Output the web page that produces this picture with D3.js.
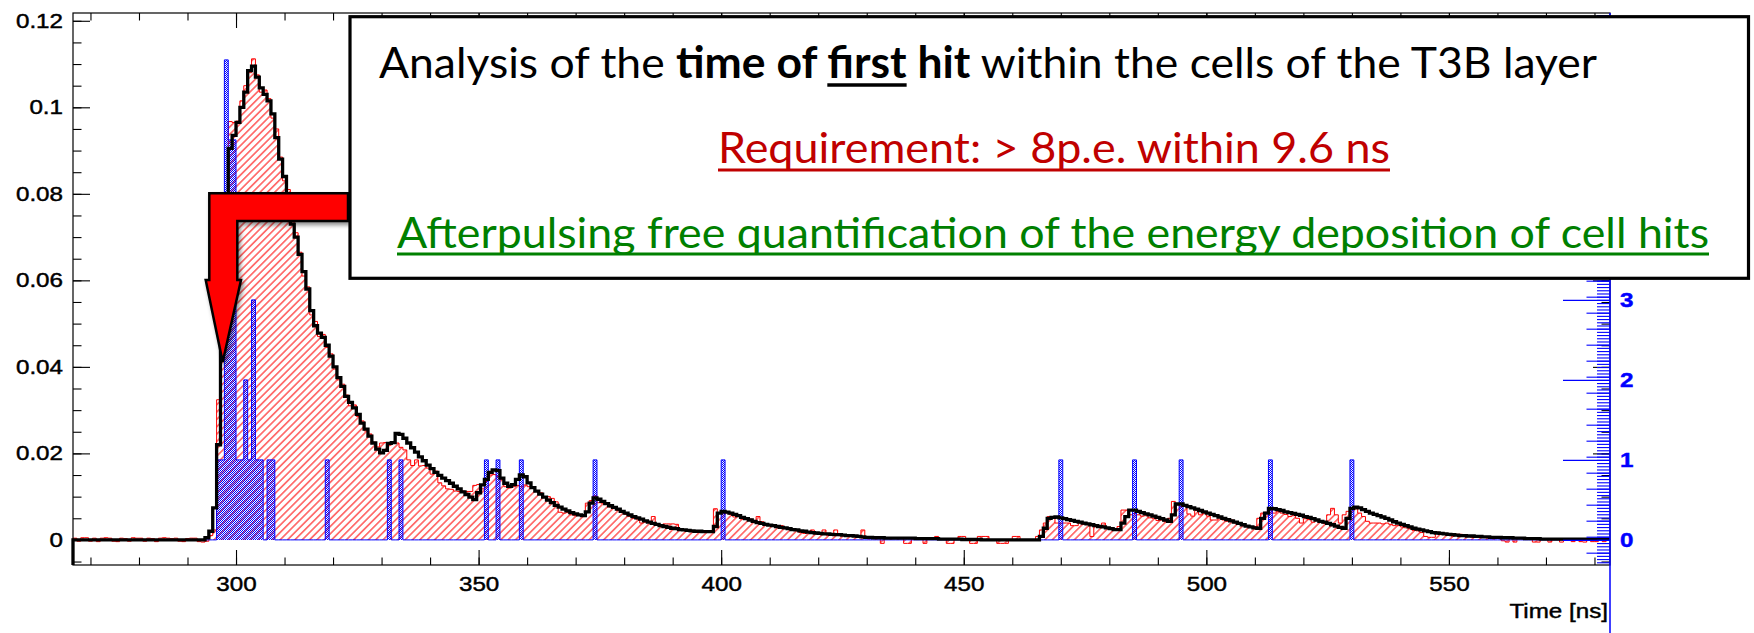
<!DOCTYPE html>
<html>
<head>
<meta charset="utf-8">
<script src="https://cdn.jsdelivr.net/npm/d3@7"></script>
<style>
body { margin: 0; background: #fff; }
svg { display: block; }
.labels text { font-family: "Liberation Sans", Arial, sans-serif; font-size: 20.5px; stroke-width: 0.45px; }
.box text { font-family: Lato, "Open Sans", sans-serif; font-size: 43px; }
</style>
</head>
<body>
<div id="plot"></div>
<script>

//Time of first hit in the T3B cells per 0.8 ns bin

// histogram binning (ns)
var timeMin = 266.4,
    binWidth = 0.8;

// black line: time of first hit, values in units of 1e-3
var firstHitPermille = [
    0,0,0,0,0,0,0,0,0,0,                                   // 0
    0,0,0,0,0,0,0,0,0,0,                                   // 10
    0,0,0,0,0,0,0,0,0,0,                                   // 20
    0,0,0,0,0.5,2,7.4,22,48,72,                            // 30
    90.5,93.5,96.5,100,103.5,108.5,109.5,107,104.5,103,    // 40
    101.5,98.5,93,88,84,80,73,70,66,62,                    // 50
    58,53,49.5,47.8,46.8,45,42.5,40,37.5,35.5,             // 60
    33.2,31.8,30.5,29,27,25.6,24,22.4,21,20.1,             // 70
    20.7,22.3,22.5,24.6,24.4,23.5,22.4,21.3,20.3,19.2,     // 80
    18.3,17.3,16.5,15.6,14.9,14.3,13.7,13.1,12.4,11.8,     // 90
    11.1,10.5,9.9,9.3,10.9,12.7,14,15.6,16.2,16,           // 100
    14.3,13.1,12.4,12.8,14,15,14.6,13.2,12.1,11.3,         // 110
    10.6,9.9,9.2,8.6,8,7.6,7.1,6.7,6.3,6,                  // 120
    5.8,5.6,6.5,8.5,9.7,9.4,8.9,8.4,7.9,7.5,               // 130
    7.1,6.6,6.2,5.8,5.4,5.1,4.8,4.4,4.1,3.8,               // 140
    3.6,3.3,3.1,2.9,2.7,2.6,2.4,2.3,2.2,2.1,               // 150
    2,2,1.9,1.9,1.9,3.1,6.2,6.6,6.4,6.2,                   // 160
    5.9,5.6,5.2,4.9,4.6,4.3,4,3.8,3.6,3.4,                 // 170
    3.3,3.1,2.9,2.8,2.6,2.4,2.3,2.1,2,1.8,                 // 180
    1.7,1.6,1.5,1.4,1.4,1.3,1.2,1.2,1.1,1,                 // 190
    1,0.9,0.8,0.7,0.6,0.6,0.5,0.5,0.5,0.4,                 // 200
    0.4,0.4,0.4,0.4,0.4,0.4,0.4,0.3,0.3,0.3,               // 210
    0.3,0.3,0.3,0.2,0.2,0.2,0.2,0.2,0.2,0.1,               // 220
    0.1,0.1,0.1,0.1,0,0,0,0,0,0,                           // 230
    0,0,0,0,0,0,0,0,0,0.8,                                 // 240
    2.7,5,5.2,5.3,5.1,4.9,4.7,4.5,4.3,4.1,                 // 250
    3.9,3.7,3.5,3.3,3.1,3,2.8,2.6,2.4,2.4,                 // 260
    3.9,5.4,6.9,6.9,6.6,6.3,6,5.8,5.5,5.2,                 // 270
    4.9,4.6,4.3,5.8,8.3,8.3,8,7.7,7.4,7.1,                 // 280
    6.8,6.5,6.2,5.9,5.6,5.3,5,4.7,4.4,4.1,                 // 290
    3.8,3.5,3.2,3,2.8,2.7,5,6.2,7.3,7.2,                   // 300
    7,6.8,6.5,6.3,6.1,5.9,5.7,5.4,5.2,4.9,                 // 310
    4.6,4.3,4.1,3.8,3.5,3.2,2.9,2.7,5,7.3,                 // 320
    7.6,7.4,7,6.6,6.2,5.9,5.6,5.3,5,4.6,                   // 330
    4.2,3.9,3.6,3.3,3,2.7,2.5,2.3,2.1,1.9,                 // 340
    1.7,1.6,1.5,1.4,1.3,1.2,1.1,1,1,0.9,                   // 350
    0.9,0.8,0.8,0.7,0.7,0.6,0.6,0.6,0.5,0.5,               // 360
    0.5,0.4,0.4,0.4,0.3,0.3,0.3,0.3,0.2,0.2,               // 370
    0.2,0.2,0.2,0.2,0.2,0.2,0.2,0.2,0.2,0.2,               // 380
    0.2,0.2,0.2,0.2,0.2,0.2                                // 390
];

// red hatched: all hits, values in units of 1e-3
var allHitsPermille = [
    0.4,-0.3,0.5,0.5,-0.3,0.4,-0.4,0.4,0.5,0.4,            // 0
    -0.3,-0.4,0.4,0.3,-0.3,0.5,0.4,0.4,-0.3,0.4,           // 10
    0.3,-0.4,0.4,0.5,0.4,0.3,0.4,-0.3,-0.4,0.3,            // 20
    0.4,0.4,-0.4,-0.5,-0.3,1,2.3,32.4,52,80,               // 30
    96.7,96.5,96.8,101.5,105,108,111.2,107.5,103.5,104,    // 40
    102,97.5,95,88.5,83,81,73.5,71,66.5,61,                // 50
    58.5,52,50.5,47,47.5,44.5,43,39.5,37,36,               // 60
    33.5,31,31.2,28.5,27.5,25.2,24.5,22.6,21.5,22.4,       // 70
    22.5,21.9,22.6,22.4,21.4,20.8,18.5,17.2,18.5,17.1,     // 80
    17.2,16.6,15.2,15.9,13.2,12.5,11.8,11.7,11.3,11.2,     // 90
    11.3,11.2,11.2,12.6,12.8,11.8,13.5,15,15.1,14.7,       // 100
    13.9,12.3,12,12.3,12.6,12.3,12.7,12.3,12.1,11.2,       // 110
    10.9,10,10,9.6,8.8,6.4,6.2,6.3,5.8,5.6,                // 120
    5.8,5.4,8.5,9.1,10.2,8.6,8.5,8.5,7.6,7.3,              // 130
    6.8,6.5,5.9,5.4,5,4.8,3.9,4.1,4,5.4,                   // 140
    3.4,3.2,3.7,3.7,3.7,3.6,2.4,2.2,2,2.1,                 // 150
    1.8,1.9,1.9,1.8,2,7.2,6.2,6.2,6.5,5.9,                 // 160
    5.3,5.5,4.8,4.8,4.8,4.5,5.4,4.2,3.7,3.5,               // 170
    3.1,3.1,3.3,2.7,2.5,2.2,2.3,1.7,1.5,1.8,               // 180
    2.3,1.4,1.6,2.3,1.1,1.3,2.3,1,1.2,1,                   // 190
    0.8,1,0.8,2.3,0.6,0.5,0.4,0.6,-0.8,0.5,                // 200
    0.4,0.4,0.5,0.4,-0.8,-0.8,0.4,0.4,0.3,-0.8,            // 210
    0.3,0.3,0.8,0.3,0.2,-0.8,-0.8,0.2,0.8,0.8,             // 220
    0.1,-0.8,-0.8,0.8,0.8,0.8,0,0,-0.8,-0.8,               // 230
    -0.8,0,0.8,0.8,0,0,0,0,0.8,2.3,                        // 240
    3.9,5.4,5.2,3.9,3.9,3.9,3.9,3.3,3.3,3.9,               // 250
    3.6,3.6,0.8,3.3,3.3,3.9,2.8,2.5,2.3,3.1,               // 260
    6.9,6.9,5.8,6.1,5.8,5.5,5.6,5.1,5,4.5,                 // 270
    4.6,4.2,5,8.9,8.1,7.7,7.8,6,5.5,6.8,                   // 280
    5.8,6.2,5.5,4.6,4.6,5.2,4.6,4.3,4.6,3.9,               // 290
    3.9,3.6,3.2,3,3.1,5,6.2,6.4,6.9,6.2,                   // 300
    6.6,6.2,5.9,5.4,5.6,5,3.9,4.9,4.7,4.1,                 // 310
    4.5,4,3.8,5.8,7.3,5.8,3.9,5.8,6.6,7.3,                 // 320
    7.3,6.2,5.4,4.3,3.9,3.9,3.9,3.7,3.9,3.6,               // 330
    3.3,3.3,3,2.8,2.6,2.2,2.1,1.7,0.8,0.6,                 // 340
    0.6,1.8,1.6,1.5,1.2,0.9,1.3,1.3,1.2,1,                 // 350
    0.6,0.7,0.8,0.6,0.5,0.3,0.5,0.5,-0.2,-0.5,             // 360
    0.4,-0.5,0.3,0.3,0.2,0.2,-0.5,-0.5,0.3,0.2,            // 370
    -0.5,0.2,0.2,-0.5,0.2,0.2,-0.4,0.2,-0.4,-0.5,          // 380
    0.2,-0.4,-0.4,0.2,-0.4,0.1                             // 390
];

// blue: hits of a single event (right axis), bin start time and count
var blueHitTimes  = [296.0, 296.8, 297.6, 298.4, 299.2, 300.0, 300.8, 301.6, 302.4, 303.2, 304.0, 304.8, 306.4, 307.2,
                     318.4, 331.2, 333.6, 351.2, 353.6, 358.4, 373.6, 400.0, 469.6, 484.8, 494.4, 512.8, 529.6];
var blueHitCounts = [1, 1, 6, 5, 5, 1, 1, 2, 1, 3, 1, 1, 1, 1,
                     1, 1, 1, 1, 1, 1, 1, 1, 1, 1, 1, 1, 1];

var xTickLabels = [300, 350, 400, 450, 500, 550];
var yTickLabels = [0, 0.02, 0.04, 0.06, 0.08, 0.1, 0.12];
var hitTickLabels = [0, 1, 2, 3];
var hitMajorTicks = [0, 1, 2, 3, 4, 5, 6];


TimePlot = function(_parentElement){
    this.parentElement = _parentElement;
    this.initVis();
}

TimePlot.prototype.initVis = function(){
    var vis = this;

    vis.frame = { left: 73, top: 13, right: 1610, bottom: 565 };

    vis.svg = d3.select("#" + vis.parentElement).append("svg")
        .attr("width", 1754)
        .attr("height", 633);

    var nBins = firstHitPermille.length;
    var timeMax = timeMin + nBins * binWidth;

    vis.x = d3.scaleLinear()
        .domain([timeMin, timeMax])
        .range([vis.frame.left, vis.frame.right]);

    vis.y = d3.scaleLinear()
        .domain([-0.0058, 0.1218])
        .range([vis.frame.bottom, vis.frame.top]);

    vis.yHits = d3.scaleLinear()
        .domain([-0.314, 6.586])
        .range([vis.frame.bottom, vis.frame.top]);

    //Patterns and shadow
    var defs = vis.svg.append("defs");

    defs.append("pattern")
        .attr("id", "redHatch")
        .attr("patternUnits", "userSpaceOnUse")
        .attr("width", 5.2).attr("height", 5.2)
        .attr("patternTransform", "rotate(45)")
        .append("line")
        .attr("x1", 2.6).attr("x2", 2.6)
        .attr("y1", 0).attr("y2", 5.2)
        .attr("stroke", "#ff0000")
        .attr("stroke-width", 1);

    var dots = defs.append("pattern")
        .attr("id", "blueDots")
        .attr("patternUnits", "userSpaceOnUse")
        .attr("width", 2).attr("height", 2);
    dots.append("rect").attr("x", 0).attr("y", 0).attr("width", 1).attr("height", 1).attr("fill", "#0000ff");
    dots.append("rect").attr("x", 1).attr("y", 1).attr("width", 1).attr("height", 1).attr("fill", "#0000ff");

    defs.append("filter")
        .attr("id", "shadow")
        .attr("x", "-20%").attr("y", "-20%")
        .attr("width", "140%").attr("height", "140%")
        .append("feDropShadow")
        .attr("dx", 2).attr("dy", 3)
        .attr("stdDeviation", 2)
        .attr("flood-color", "#000")
        .attr("flood-opacity", 0.45);

    //Histogram points (bin start, value) plus the closing edge
    var toBins = function(vals){
        var pts = vals.map((v, i) => ({ t: timeMin + i * binWidth, v: v }));
        pts.push({ t: timeMax, v: vals[vals.length - 1] });
        return pts;
    };

    var firstHit = toBins(firstHitPermille.map(d => d / 1000));
    var allHits = toBins(allHitsPermille.map(d => d / 1000));

    var hitCounts = firstHitPermille.map(() => 0);
    blueHitTimes.forEach((t, k) => {
        hitCounts[Math.round((t - timeMin) / binWidth)] = blueHitCounts[k];
    });
    var hits = toBins(hitCounts);

    var stepLine = function(scale){
        return d3.line().curve(d3.curveStepAfter)
            .x(d => vis.x(d.t)).y(d => scale(d.v));
    };
    var stepArea = function(scale){
        return d3.area().curve(d3.curveStepAfter)
            .x(d => vis.x(d.t)).y0(scale(0)).y1(d => scale(d.v));
    };

    var plot = vis.svg.append("g").attr("class", "histos");

    //Red: all hits, hatched
    plot.append("path")
        .attr("d", stepArea(vis.y)(allHits))
        .attr("fill", "url(#redHatch)");
    plot.append("path")
        .attr("d", stepLine(vis.y)([{ t: timeMin, v: 0 }].concat(allHits, [{ t: timeMax, v: 0 }])))
        .attr("fill", "none")
        .attr("stroke", "#ff0000")
        .attr("stroke-width", 1);

    //Blue: single event, right axis
    plot.append("path")
        .attr("d", stepArea(vis.yHits)(hits))
        .attr("fill", "url(#blueDots)");
    plot.append("path")
        .attr("d", stepLine(vis.yHits)([{ t: timeMin, v: 0 }].concat(hits, [{ t: timeMax, v: 0 }])))
        .attr("fill", "none")
        .attr("stroke", "#0000ff")
        .attr("stroke-width", 1);

    //Black: time of first hit
    plot.append("path")
        .attr("d", stepLine(vis.y)([{ t: timeMin, v: vis.y.domain()[0] }].concat(firstHit)))
        .attr("fill", "none")
        .attr("stroke", "#000")
        .attr("stroke-width", 3.3)
        .attr("stroke-linejoin", "miter");

    //Frame
    vis.svg.append("rect")
        .attr("x", vis.frame.left).attr("y", vis.frame.top)
        .attr("width", vis.frame.right - vis.frame.left)
        .attr("height", vis.frame.bottom - vis.frame.top)
        .attr("fill", "none")
        .attr("stroke", "#000")
        .attr("stroke-width", 1.2);

    //Inward ticks on all sides
    var xMinor = d3.range(270, timeMax, 10);
    var yMinor = d3.range(-1, 25).map(k => +(k * 0.005).toFixed(3));
    var hitMinor = d3.range(-7, 165).map(k => k / 25);

    var ticks = function(axis, tx, ty, color){
        vis.svg.append("g")
            .attr("transform", "translate(" + tx + "," + ty + ")")
            .call(axis.tickFormat(""))
            .call(g => g.select(".domain").remove())
            .selectAll("line")
            .attr("stroke", color)
            .attr("stroke-width", 1.1);
    };

    ticks(d3.axisTop(vis.x).tickValues(xMinor).tickSize(7.5), 0, vis.frame.bottom, "#000");
    ticks(d3.axisTop(vis.x).tickValues(xTickLabels).tickSize(15), 0, vis.frame.bottom, "#000");
    ticks(d3.axisBottom(vis.x).tickValues(xMinor).tickSize(7.5), 0, vis.frame.top, "#000");
    ticks(d3.axisBottom(vis.x).tickValues(xTickLabels).tickSize(15), 0, vis.frame.top, "#000");
    ticks(d3.axisRight(vis.y).tickValues(yMinor).tickSize(8.5), vis.frame.left, 0, "#000");
    ticks(d3.axisRight(vis.y).tickValues(yTickLabels).tickSize(17), vis.frame.left, 0, "#000");
    ticks(d3.axisLeft(vis.y).tickValues(yMinor).tickSize(8.5), vis.frame.right, 0, "#000");
    ticks(d3.axisLeft(vis.y).tickValues(yTickLabels).tickSize(17), vis.frame.right, 0, "#000");

    //Right axis for the single event (blue)
    ticks(d3.axisLeft(vis.yHits).tickValues(hitMinor).tickSize(13), vis.frame.right, 0, "#0000ff");
    ticks(d3.axisLeft(vis.yHits).tickValues(hitMinor.filter((d, k) => (k + 7) % 5 === 0)).tickSize(23.5), vis.frame.right, 0, "#0000ff");
    ticks(d3.axisLeft(vis.yHits).tickValues(hitMajorTicks).tickSize(47), vis.frame.right, 0, "#0000ff");

    vis.svg.append("line")
        .attr("x1", vis.frame.right).attr("x2", vis.frame.right)
        .attr("y1", vis.frame.top).attr("y2", 633)
        .attr("stroke", "#0000ff")
        .attr("stroke-width", 1.5);

    //Labels: the ROOT fonts come out about 18% wider than Arial
    var stretch = 1.18;
    var widen = function(sel){
        sel.each(function(){
            var t = d3.select(this);
            t.attr("x", (+t.attr("x") || 0) / stretch)
                .attr("transform", "scale(" + stretch + ",1)");
        });
    };

    var labels = function(axis, tx, ty, color, bold){
        var g = vis.svg.append("g")
            .attr("class", "labels")
            .attr("transform", "translate(" + tx + "," + ty + ")")
            .call(axis.tickSize(0))
            .call(g => g.select(".domain").remove());
        g.attr("font-size", null).attr("font-family", null);
        g.selectAll("text")
            .attr("fill", color)
            .attr("stroke", color)
            .attr("font-weight", bold ? "bold" : "normal")
            .call(widen);
    };

    labels(d3.axisBottom(vis.x).tickValues(xTickLabels).tickPadding(11).tickFormat(d => String(d)),
        0, vis.frame.bottom, "#000", false);
    labels(d3.axisLeft(vis.y).tickValues(yTickLabels).tickPadding(10).tickFormat(d => String(d)),
        vis.frame.left, 0, "#000", false);
    labels(d3.axisRight(vis.yHits).tickValues(hitTickLabels).tickPadding(10).tickFormat(d => String(d)),
        vis.frame.right, 0, "#0000ff", true);

    vis.svg.append("g")
        .attr("class", "labels")
        .append("text")
        .attr("x", 1608)
        .attr("y", 618)
        .attr("text-anchor", "end")
        .attr("fill", "#000")
        .attr("stroke", "#000")
        .text("Time [ns]")
        .call(widen);

    //Red arrow
    vis.svg.append("path")
        .attr("d", "M209.3,193.3 L348,193.3 L348,221 L237.3,221 L237.3,280 L241,280 L222.7,362 L205.7,280 L209.3,280 Z")
        .attr("fill", "#ff0000")
        .attr("stroke", "#000")
        .attr("stroke-width", 2.5)
        .attr("stroke-linejoin", "miter")
        .attr("filter", "url(#shadow)");

    //Text box
    var box = vis.svg.append("g").attr("class", "box");

    box.append("rect")
        .attr("x", 350).attr("y", 16.7)
        .attr("width", 1398.5).attr("height", 261.6)
        .attr("fill", "#fff")
        .attr("stroke", "#000")
        .attr("stroke-width", 3.2);

    var line1 = box.append("text")
        .attr("x", 379).attr("y", 78.3)
        .attr("textLength", 1218)
        .attr("lengthAdjust", "spacingAndGlyphs")
        .attr("fill", "#000");
    line1.append("tspan").text("Analysis of the ");
    line1.append("tspan").attr("font-weight", "bold").text("time of ");
    line1.append("tspan").attr("font-weight", "bold").text("first");
    line1.append("tspan").attr("font-weight", "bold").text(" hit");
    line1.append("tspan").text(" within the cells of the T3B layer");

    var n1 = line1.node();
    box.append("line")
        .attr("x1", n1.getStartPositionOfChar(24).x)
        .attr("x2", n1.getEndPositionOfChar(28).x)
        .attr("y1", 85).attr("y2", 85)
        .attr("stroke", "#000")
        .attr("stroke-width", 3.4);

    var underlined = function(txt, x, y, len, color, uy){
        box.append("text")
            .attr("x", x).attr("y", y)
            .attr("textLength", len)
            .attr("lengthAdjust", "spacingAndGlyphs")
            .attr("fill", color)
            .text(txt);
        box.append("line")
            .attr("x1", x).attr("x2", x + len)
            .attr("y1", uy).attr("y2", uy)
            .attr("stroke", color)
            .attr("stroke-width", 3);
    };

    underlined("Requirement: > 8p.e. within 9.6 ns", 718, 163, 672, "#c00000", 170);
    underlined("Afterpulsing free quantification of the energy deposition of cell hits", 397, 248.3, 1312, "#008000", 254);
}

var plot = new TimePlot("plot");

</script>
</body>
</html>
